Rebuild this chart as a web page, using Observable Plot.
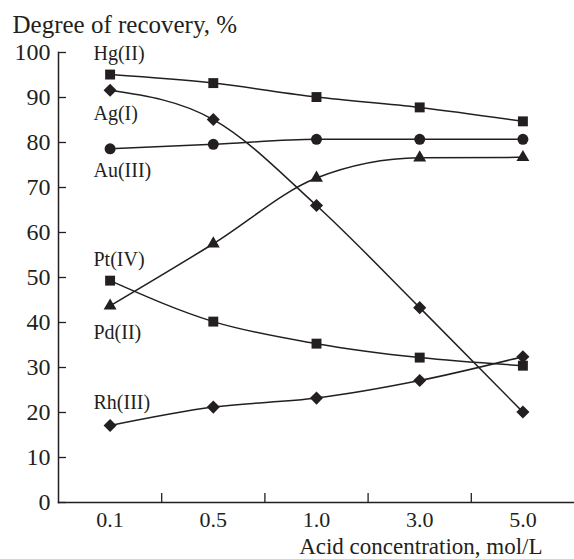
<!DOCTYPE html>
<html>
<head>
<meta charset="utf-8">
<script src="https://cdn.jsdelivr.net/npm/d3@7"></script>
<script src="https://cdn.jsdelivr.net/npm/@observablehq/plot@0.6"></script>
<style>
  html, body { margin: 0; padding: 0; background: #fff; }
  svg { display: block; }
</style>
</head>
<body>
<div id="chart"></div>
<script>
// ---- data ----
const concentrations = ["0.1", "0.5", "1.0", "3.0", "5.0"];
const hg = [95.1, 93.2, 90.1, 87.8, 84.7];
const ag = [91.6, 85.1, 66.0, 43.3, 20.1];
const au = [78.6, 79.6, 80.7, 80.7, 80.7];
const pt = [43.7, 57.5, 72.1, 76.6, 76.7];
const pd = [49.3, 40.2, 35.3, 32.2, 30.4];
const rh = [17.1, 21.2, 23.2, 27.1, 32.4];
const seriesNames = ["Hg(II)", "Ag(I)", "Au(III)", "Pt(IV)", "Pd(II)", "Rh(III)"];
const seriesValues = [hg, ag, au, pt, pd, rh];
const seriesSymbols = ["square", "diamond2", "circle", "triangle", "square", "diamond2"];
const symbolRadius = [5.6, 5.9, 5.5, 4.8, 5.6, 5.9];
const labelY = [99.8, 86.4, 73.8, 54.0, 37.8, 22.3];
const yTicks = [0, 10, 20, 30, 40, 50, 60, 70, 80, 90, 100];
const xDividers = [0.5, 1.5, 2.5, 3.5];
const yTitle = "Degree of recovery, %";
const xTitle = "Acid concentration, mol/L";

// ---- chart ----
const W = 574, H = 559;
const mL = 58, mR = 0, mT = 52, mB = 57;
const ink = "#231f20";
const font = "'Liberation Serif', 'Times New Roman', serif";

const marks = [];
// axis lines
marks.push(Plot.frame({anchor: "left", stroke: ink, strokeWidth: 1.5}));
marks.push(Plot.frame({anchor: "bottom", stroke: ink, strokeWidth: 1.5}));
// inward y ticks
marks.push(Plot.ruleY(yTicks, {y: d => d, stroke: ink, strokeWidth: 1.3, insetRight: W - mL - mR - 8}));
// x divider ticks (pointing up)
marks.push(Plot.ruleX(xDividers, {x: d => d, stroke: ink, strokeWidth: 1.3, insetTop: H - mT - mB - 9}));
// axis tick labels
marks.push(Plot.axisY(yTicks, {tickSize: 0, tickPadding: 8, fontSize: 24, fill: ink, label: null}));
marks.push(Plot.axisX(concentrations.map((d, i) => i), {tickSize: 0, tickPadding: 9, fontSize: 22, fill: ink, label: null, tickFormat: i => concentrations[i]}));

seriesValues.forEach((vals, s) => {
  const rows = vals.map((v, i) => ({i, v}));
  marks.push(Plot.line(rows, {x: "i", y: "v", curve: "monotone-x", stroke: ink, strokeWidth: 1.5}));
  marks.push(Plot.dot(rows, {x: "i", y: "v", symbol: () => seriesSymbols[s], r: symbolRadius[s], fill: ink, stroke: "none"}));
});

// series labels
marks.push(Plot.text(seriesNames.map((n, s) => ({n, y: labelY[s]})), {
  x: () => 0, y: "y", text: "n", textAnchor: "start", dx: -16.6,
  fontSize: 20, fill: ink, lineAnchor: "middle"
}));

// titles
marks.push(Plot.text([yTitle], {frameAnchor: "top-left", text: d => d, textAnchor: "start", lineAnchor: "bottom", dx: 12 - mL, dy: 32 - mT, fontSize: 25, fill: ink}));
marks.push(Plot.text([xTitle], {frameAnchor: "bottom-right", text: d => d, textAnchor: "end", lineAnchor: "bottom", dx: -32, dy: 553 - (H - mB), fontSize: 23, fill: ink}));

const chart = Plot.plot({
  width: W, height: H,
  marginLeft: mL, marginRight: mR, marginTop: mT, marginBottom: mB,
  style: {fontFamily: font, background: "#fff", color: ink, overflow: "visible"},
  x: {type: "linear", domain: [-0.5, 4.5], axis: null},
  y: {type: "linear", domain: [0, 100], axis: null},
  symbol: {type: "identity"},
  marks
});
document.getElementById("chart").appendChild(chart);
</script>
</body>
</html>
